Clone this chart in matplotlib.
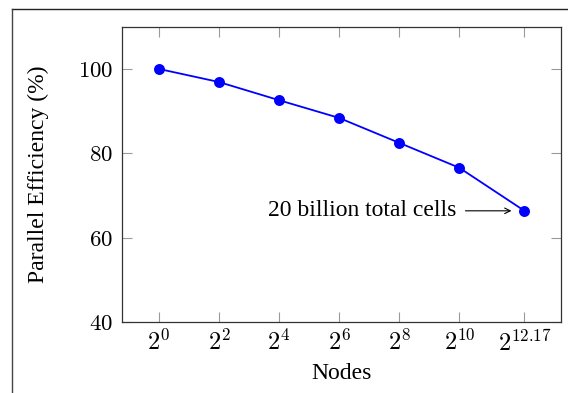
import matplotlib
matplotlib.use("Agg")
import matplotlib.pyplot as plt
from matplotlib.lines import Line2D
from matplotlib.ticker import FixedLocator, FixedFormatter, NullLocator

# Strong-scaling data
exponents = [0, 2, 4, 6, 8, 10, 12.17]
nodes = [2 ** e for e in exponents]
efficiency = [100.0, 96.9, 92.6, 88.4, 82.5, 76.6, 66.4]
tick_labels = [r"$2^{0}$", r"$2^{2}$", r"$2^{4}$", r"$2^{6}$", r"$2^{8}$",
               r"$2^{10}$", r"$2^{12.17}$"]
y_ticks = [40, 60, 80, 100]

plt.rcParams["mathtext.fontset"] = "cm"
plt.rcParams["font.family"] = ["Liberation Serif", "DejaVu Serif"]

W, H = 568, 393
fig = plt.figure(figsize=(W / 100, H / 100), dpi=100)
ax = fig.add_axes([122.3 / W, 1 - 322.3 / H, (561 - 122.3) / W, (322.3 - 26.7) / H])

ax.plot(nodes, efficiency, color="#0000ff", lw=1.3, marker="o",
        markersize=7.9, markeredgewidth=0, zorder=3)

ax.set_xscale("log", base=2)
span = exponents[-1] - exponents[0]
ax.set_xlim(2 ** (exponents[0] - 0.1 * span), 2 ** (exponents[-1] + 0.1 * span))
ax.set_ylim(40, 110)

ax.xaxis.set_major_locator(FixedLocator(nodes))
ax.xaxis.set_major_formatter(FixedFormatter(tick_labels))
ax.xaxis.set_minor_locator(NullLocator())
ax.set_yticks(y_ticks)
ax.set_yticklabels([rf"${v}$" for v in y_ticks])

ax.tick_params(axis="both", which="major", direction="in", length=7.2,
               width=0.8, color="#9a9a9a", labelsize=16.5,
               top=True, right=True)
ax.tick_params(axis="x", labelsize=17.5, pad=5.5)
ax.tick_params(axis="y", pad=6.5)

for sp in ax.spines.values():
    sp.set_color("#333333")
    sp.set_linewidth(0.9)

ax.set_xlabel("Nodes", fontsize=17, labelpad=5)
ax.set_ylabel("Parallel Efficiency (%)", fontsize=17, labelpad=21)

# Callout for the largest run
px, py = nodes[-1], efficiency[-1]
ax.annotate("20 billion total cells", xy=(px, py), xytext=(-68, 0),
            textcoords="offset pixels", ha="right", va="center",
            fontsize=17)
ax.annotate("", xy=(px, py), xytext=(-59, 0), xycoords="data",
            textcoords=("offset pixels"),
            arrowprops=dict(arrowstyle="->", color="black", lw=0.8,
                            shrinkA=0, shrinkB=13 * 72 / 100))

# Outer frame lines
fig.add_artist(Line2D([11.7 / W, 1.0], [1 - 9.3 / H, 1 - 9.3 / H],
                      transform=fig.transFigure, color="#222222", lw=1.0))
fig.add_artist(Line2D([11.7 / W, 11.7 / W], [0.0, 1 - 9.3 / H],
                      transform=fig.transFigure, color="#444444", lw=1.0))

fig.savefig("out.png", dpi=100)
